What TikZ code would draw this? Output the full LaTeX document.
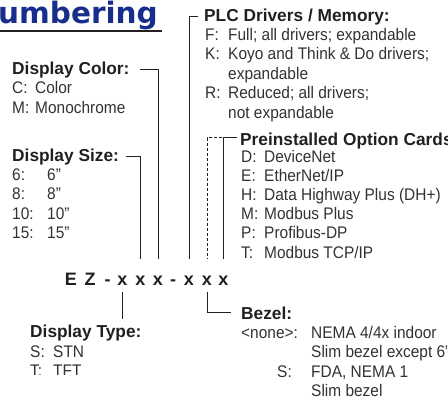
\documentclass[tikz,border=0pt]{standalone}
\usepackage{fontspec}
\setmainfont{Liberation Sans}
\newfontfamily\bodyfont[FakeStretch=0.92]{Liberation Sans}
\newfontfamily\headfont{Liberation Sans}
\newfontfamily\titlefont{DejaVu Sans}
\definecolor{titleblue}{RGB}{24,46,140}
\definecolor{ink}{RGB}{35,31,32}
\definecolor{bodygray}{RGB}{50,50,50}
\tikzset{
  head/.style={anchor=base west, inner sep=0pt, font=\headfont\bfseries\fontsize{17.3}{17.3}\selectfont, text=ink},
  item/.style={anchor=base west, inner sep=0pt, font=\bodyfont\fontsize{16.8}{16.8}\selectfont, text=bodygray},
  codech/.style={anchor=base, inner sep=0pt, text height=26pt, text depth=7pt, font=\headfont\bfseries\fontsize{18}{18}\selectfont, text=ink},
  lead/.style={draw=ink, line width=1pt},
  leaddash/.style={lead, dash pattern=on 3pt off 2pt},
}
\begin{document}
\begin{tikzpicture}[x=1pt,y=-1pt]
\useasboundingbox (0,0) rectangle (448,402);
\clip (0,0) rectangle (448,402);

% title
\node[anchor=base west, inner sep=0pt, font=\titlefont\bfseries\fontsize{29.5}{29.5}\selectfont, text=titleblue] (title) at (-2,23) {umbering};
\draw[ink, line width=2pt] (0,30.6) -- (162,30.6);

% code characters
\node[codech] (ce) at (71,285) {E};
\node[codech] (cz) at (90,285) {Z};
\node[codech] (h1) at (107.5,285) {-};
\node[codech] (c1) at (122.5,285) {x};
\node[codech] (c2) at (140.5,285) {x};
\node[codech] (c3) at (158,285) {x};
\node[codech] (h2) at (173,285) {-};
\node[codech] (c4) at (189,285) {x};
\node[codech] (c5) at (207,285) {x};
\node[codech] (c6) at (223.5,285) {x};

% Display Color
\node[head] (dcol) at (12,74) {Display Color:};
\node[item] (dcC) at (12,93.5) {C:};
\node[item] (dcCt) at (35,93.5) {Color};
\node[item] (dcM) at (12,113) {M:};
\node[item] (dcMt) at (35,113) {Monochrome};
\draw[lead] ([xshift=10pt]dcol.east) -| (c3.north);

% Display Size
\node[head] (dsz) at (12,161) {Display Size:};
\node[item] (ds6) at (12,180) {6:};
\node[item] (ds6t) at (47,180) {6”};
\node[item] (ds8) at (12,199.5) {8:};
\node[item] (ds8t) at (47,199.5) {8”};
\node[item] (ds10) at (12,219) {10:};
\node[item] (ds10t) at (47,219) {10”};
\node[item] (ds15) at (12,238.5) {15:};
\node[item] (ds15t) at (47,238.5) {15”};
\draw[lead] ([xshift=7pt]dsz.east) -| (c2.north);

% PLC Drivers
\node[head] (plc) at (204,21) {PLC Drivers / Memory:};
\node[item] (pF) at (205,40) {F:};
\node[item] (pFt) at (228,40) {Full; all drivers; expandable};
\node[item] (pK) at (205,59.5) {K:};
\node[item] (pKt) at (228,59.5) {Koyo and Think \& Do drivers;};
\node[item] (pKt2) at (228,79) {expandable};
\node[item] (pR) at (205,98.5) {R:};
\node[item] (pRt) at (228,98.5) {Reduced; all drivers;};
\node[item] (pRt2) at (228,118) {not expandable};
\draw[lead] ([xshift=-6pt]plc.west) -| (c4.north);

% Option cards
\node[head] (opt) at (240,145) {Preinstalled Option Cards:};
\node[item] (oD) at (241,162) {D:};
\node[item] (oDt) at (264,162) {DeviceNet};
\node[item] (oE) at (241,181.2) {E:};
\node[item] (oEt) at (264,181.2) {EtherNet/IP};
\node[item] (oH) at (241,200.4) {H:};
\node[item] (oHt) at (264,200.4) {Data Highway Plus (DH+)};
\node[item] (oM) at (241,219.6) {M:};
\node[item] (oMt) at (264,219.6) {Modbus Plus};
\node[item] (oP) at (241,238.8) {P:};
\node[item] (oPt) at (264,238.8) {Profibus-DP};
\node[item] (oT) at (241,258) {T:};
\node[item] (oTt) at (264,258) {Modbus TCP/IP};
\draw[leaddash] ([xshift=-3pt,yshift=3pt]opt.west) -| (c5.north);
\draw[lead] ([xshift=-3pt,yshift=3pt]opt.west) -| (c6.north);

% Display Type
\node[head] (dtp) at (30,337) {Display Type:};
\node[item] (dtS) at (30,357) {S:};
\node[item] (dtSt) at (53,357) {STN};
\begin{scope}
\clip (0,360) rectangle (200,374.5);
\node[item] (dtT) at (30,376) {T:};
\node[item] (dtTt) at (53,376) {TFT};
\end{scope}
\draw[lead] (c1.south) -- ([yshift=5pt]c1.south |- dtp.north);

% Bezel
\node[head] (bez) at (241,319) {Bezel:};
\node[item] (bn) at (241,338) {<none>:};
\node[item] (bnt) at (311,338) {NEMA 4/4x indoor};
\node[item] (bnt2) at (311,357.5) {Slim bezel except 6”};
\node[item] (bS) at (277,377) {S:};
\node[item] (bSt) at (311,377) {FDA, NEMA 1};
\node[item] (bSt2) at (311,396) {Slim bezel};
\draw[lead] (c5.south) |- ([xshift=-10pt]bez.west);
\end{tikzpicture}
\end{document}
